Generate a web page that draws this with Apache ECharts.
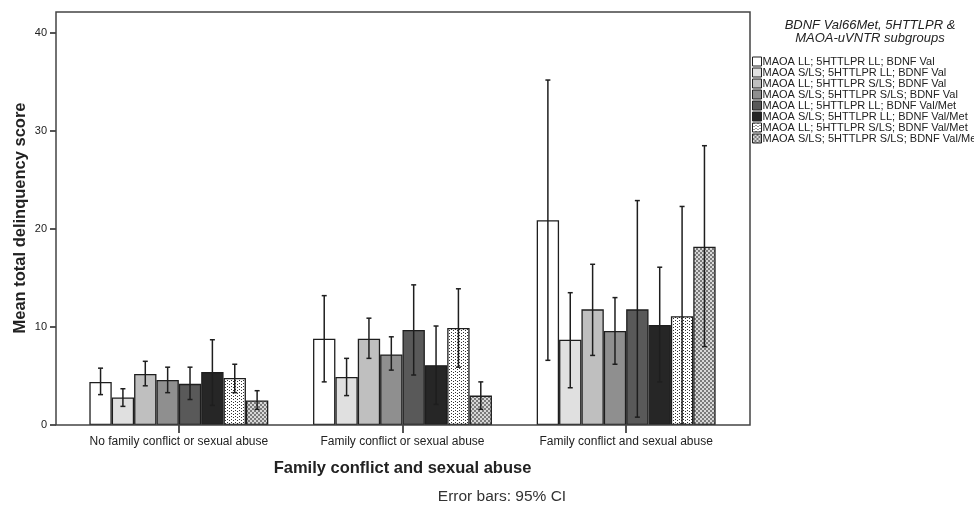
<!DOCTYPE html>
<html>
<head>
<meta charset="utf-8">
<script src="https://cdn.jsdelivr.net/npm/echarts@6/dist/echarts.min.js"></script>
<style>
html,body{margin:0;padding:0;background:#fff;}
#chart{width:974px;height:511px;}
</style>
</head>
<body>
<div id="chart"></div>
<script>
// ---- data ----
var categories = ['No family conflict or sexual abuse', 'Family conflict or sexual abuse', 'Family conflict and sexual abuse'];
var seriesNames = [
  'MAOA LL; 5HTTLPR LL; BDNF Val',
  'MAOA S/LS; 5HTTLPR LL; BDNF Val',
  'MAOA LL; 5HTTLPR S/LS; BDNF Val',
  'MAOA S/LS; 5HTTLPR S/LS; BDNF Val',
  'MAOA LL; 5HTTLPR LL; BDNF Val/Met',
  'MAOA S/LS; 5HTTLPR LL; BDNF Val/Met',
  'MAOA LL; 5HTTLPR S/LS; BDNF Val/Met',
  'MAOA S/LS; 5HTTLPR S/LS; BDNF Val/Met'
];
// means per subgroup, one value per category
var means1 = [4.4, 8.8, 20.9];
var means2 = [2.8, 4.9, 8.7];
var means3 = [5.2, 8.8, 11.8];
var means4 = [4.6, 7.2, 9.6];
var means5 = [4.2, 9.7, 11.8];
var means6 = [5.4, 6.1, 10.2];
var means7 = [4.8, 9.9, 11.1];
var means8 = [2.5, 3.0, 18.2];
// 95% CI lower / upper bounds
var lower1 = [3.1, 4.4, 6.6],  upper1 = [5.8, 13.2, 35.2];
var lower2 = [1.9, 3.0, 3.8],  upper2 = [3.7, 6.8, 13.5];
var lower3 = [4.0, 6.8, 7.1],  upper3 = [6.5, 10.9, 16.4];
var lower4 = [3.3, 5.6, 6.2],  upper4 = [5.9, 9.0, 13.0];
var lower5 = [2.6, 5.1, 0.8],  upper5 = [5.9, 14.3, 22.9];
var lower6 = [2.0, 2.1, 4.4],  upper6 = [8.7, 10.1, 16.1];
var lower7 = [3.3, 5.9, 0.1],  upper7 = [6.2, 13.9, 22.3];
var lower8 = [1.6, 1.6, 8.0],  upper8 = [3.5, 4.4, 28.5];
var yTicks = [0, 10, 20, 30, 40];

var allMeans = [means1, means2, means3, means4, means5, means6, means7, means8];
var allLower = [lower1, lower2, lower3, lower4, lower5, lower6, lower7, lower8];
var allUpper = [upper1, upper2, upper3, upper4, upper5, upper6, upper7, upper8];

// ---- patterns ----
function dotPattern() {
  var c = document.createElement('canvas');
  c.width = 4; c.height = 3;
  var g = c.getContext('2d');
  g.fillStyle = '#ffffff'; g.fillRect(0, 0, 4, 3);
  g.fillStyle = '#333333';
  g.fillRect(1, 0, 1, 1);
  g.fillRect(3, 2, 1, 1);
  return c;
}
function checkPattern() {
  var c = document.createElement('canvas');
  c.width = 4; c.height = 4;
  var g = c.getContext('2d');
  g.fillStyle = '#d8d8d8'; g.fillRect(0, 0, 4, 4);
  g.fillStyle = '#7a7a7a';
  g.fillRect(0, 0, 2, 2);
  g.fillRect(2, 2, 2, 2);
  return c;
}
var fills = [
  '#ffffff', '#e0e0e0', '#bfbfbf', '#8f8f8f', '#595959', '#262626',
  {image: dotPattern(), repeat: 'repeat'},
  {image: checkPattern(), repeat: 'repeat'}
];

var BAR_FRAC = 0.1; // each bar = 10% of band
var series = [];
seriesNames.forEach(function (name, i) {
  series.push({
    name: name,
    type: 'bar',
    data: allMeans[i],
    barWidth: '10%',
    barGap: '0%',
    itemStyle: {color: fills[i], borderColor: '#1e1e1e', borderWidth: 1.3},
    emphasis: {disabled: true},
    z: 2
  });
});
seriesNames.forEach(function (name, i) {
  var d = categories.map(function (c, k) { return [k, allLower[i][k], allUpper[i][k]]; });
  series.push({
    name: 'err' + i,
    type: 'custom',
    data: d,
    encode: {x: 0, y: [1, 2]},
    z: 5,
    renderItem: function (params, api) {
      var k = api.value(0);
      var band = api.size([1, 0])[0];
      var lo = api.coord([k, api.value(1)]);
      var hi = api.coord([k, api.value(2)]);
      var x = lo[0] + (i - 3.5) * band * BAR_FRAC;
      var cap = 2.5;
      var st = {stroke: '#1e1e1e', lineWidth: 1.5, fill: null};
      return {
        type: 'group',
        children: [
          {type: 'line', shape: {x1: x, y1: lo[1], x2: x, y2: hi[1]}, style: st},
          {type: 'line', shape: {x1: x - cap, y1: lo[1], x2: x + cap, y2: lo[1]}, style: st},
          {type: 'line', shape: {x1: x - cap, y1: hi[1], x2: x + cap, y2: hi[1]}, style: st}
        ]
      };
    }
  });
});

var FONT = 'Liberation Sans, Arial, sans-serif';
var chart = echarts.init(document.getElementById('chart'), null, {renderer: 'canvas'});
chart.setOption({
  backgroundColor: '#ffffff',
  animation: false,
  textStyle: {fontFamily: FONT},
  title: [
    {
      text: 'BDNF Val66Met, 5HTTLPR &\nMAOA-uVNTR subgroups',
      left: 865, top: 14, textAlign: 'center',
      textStyle: {fontFamily: FONT, fontSize: 13, fontStyle: 'italic', fontWeight: 'normal', color: '#222', lineHeight: 13}
    },
    {
      text: 'Error bars: 95% CI',
      left: 497, top: 484, textAlign: 'center',
      textStyle: {fontFamily: FONT, fontSize: 15.5, fontWeight: 'normal', color: '#333'}
    }
  ],
  legend: {
    data: seriesNames,
    orient: 'vertical',
    left: 752, top: 56,
    padding: 0,
    itemWidth: 9, itemHeight: 9, itemGap: 0,
    icon: 'rect',
    selectedMode: false,
    itemStyle: {borderColor: '#1e1e1e', borderWidth: 1},
    textStyle: {fontFamily: FONT, fontSize: 11, color: '#222', lineHeight: 10, padding: [0, 0, 0, -4]}
  },
  grid: {left: 67, right: 236, top: 33, bottom: 86, containLabel: false},
  xAxis: {
    type: 'category',
    data: categories,
    name: 'Family conflict and sexual abuse',
    nameLocation: 'middle',
    nameGap: 35,
    nameTextStyle: {fontFamily: FONT, fontSize: 16.5, fontWeight: 'bold', color: '#222'},
    axisLine: {show: false},
    axisTick: {show: true, alignWithLabel: true, length: 8, lineStyle: {color: '#1e1e1e', width: 1.5}},
    axisLabel: {fontFamily: FONT, fontSize: 12, color: '#222', margin: 11, interval: 0, hideOverlap: false},
    splitLine: {show: false}
  },
  yAxis: {
    type: 'value',
    min: 0, max: 40, interval: 10,
    offset: 11,
    name: 'Mean total delinquency score',
    nameLocation: 'middle',
    nameGap: 27,
    nameMoveOverlap: false,
    nameTextStyle: {fontFamily: FONT, fontSize: 16.5, fontWeight: 'bold', color: '#222', padding: [0, 0, 0, 22]},
    axisLine: {show: false},
    axisTick: {show: true, length: 6, lineStyle: {color: '#1e1e1e', width: 1.5}},
    axisLabel: {fontFamily: FONT, fontSize: 11, color: '#222', margin: 9,
      formatter: function (v) { return yTicks.indexOf(v) >= 0 ? String(v) : ''; }},
    splitLine: {show: false}
  },
  graphic: [{
    type: 'rect',
    shape: {x: 56, y: 12, width: 694, height: 413},
    style: {fill: null, stroke: '#444', lineWidth: 1.5},
    z: 100,
    silent: true
  }],
  series: series
});
</script>
</body>
</html>
